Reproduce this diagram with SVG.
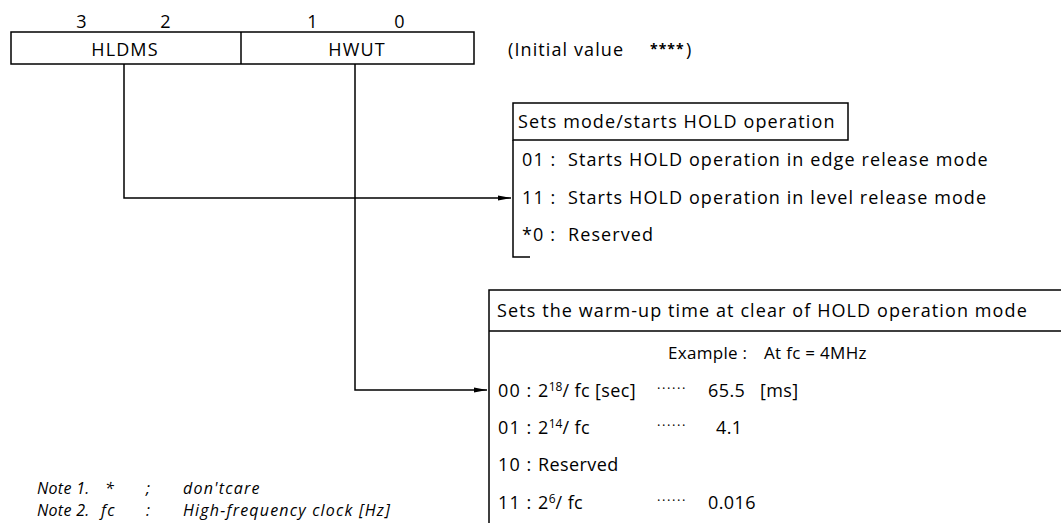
<svg xmlns="http://www.w3.org/2000/svg" width="1061" height="523" viewBox="0 0 1061 523">
<defs>
<marker id="arr" markerWidth="14" markerHeight="8" refX="13" refY="4" orient="auto" markerUnits="userSpaceOnUse">
<path d="M0,1.5 L13,4 L0,6.5 Z" fill="#000"/>
</marker>
<style>
text{font-family:"Open Sans","Noto Sans",sans-serif;font-size:18px;fill:#000;letter-spacing:1.1px}
.c{text-anchor:middle}
.it{font-style:italic;font-size:16px;letter-spacing:1.2px}
.sup{font-size:12px;letter-spacing:0}
.r{letter-spacing:0.4px}
.dots{font-size:13px;letter-spacing:1.6px}
.ln{fill:none;stroke:#000;stroke-width:1.5}
</style>
</defs>
<rect width="1061" height="523" fill="#fff"/>
<g id="register">
<text x="82" y="28" class="c">3</text>
<text x="166" y="28" class="c">2</text>
<text x="313" y="28" class="c">1</text>
<text x="400" y="28" class="c">0</text>
<rect x="11" y="32" width="463" height="32" class="ln"/>
<line x1="241" y1="32" x2="241" y2="64" class="ln"/>
<text x="125" y="56" class="c">HLDMS</text>
<text x="357" y="56" class="c">HWUT</text>
<text x="508" y="56">(Initial value</text>
<text x="650" y="54" style="font-size:14px;letter-spacing:1px;font-weight:bold">****</text>
<text x="686" y="56">)</text>
</g>
<g id="connectors">
<polyline points="124,64 124,198 511,198" class="ln" marker-end="url(#arr)"/>
<polyline points="355,64 355,390 487,390" class="ln" marker-end="url(#arr)"/>
</g>
<g id="hldms-box">
<rect x="513" y="103" width="335" height="37" class="ln"/>
<polyline points="513,140 513,257 530,257" class="ln"/>
<text x="518" y="128">Sets mode/starts HOLD operation</text>
<text x="522" y="166">01 :</text><text x="568" y="166">Starts HOLD operation in edge release mode</text>
<text x="522" y="204">11 :</text><text x="568" y="204">Starts HOLD operation in level release mode</text>
<text x="522" y="241">*0 :</text><text x="568" y="241">Reserved</text>
</g>
<g id="hwut-box">
<path d="M1065,290 H489 V523 M489,331 H1065" class="ln"/>
<text x="497" y="317">Sets the warm-up time at clear of HOLD operation mode</text>
<text x="668" y="359" style="font-size:17px;letter-spacing:0.3px">Example :</text>
<text x="764" y="359" style="font-size:17px;letter-spacing:0.3px">At fc = 4MHz</text>
<text x="498" y="397">00 :</text><text x="538" y="397" class="r">2<tspan class="sup" dy="-6">18</tspan><tspan dy="6">/ fc [sec]</tspan></text>
<text x="657" y="393" class="dots">······</text>
<text x="708" y="397" class="r">65.5</text><text x="760" y="397" class="r">[ms]</text>
<text x="498" y="434">01 :</text><text x="538" y="434" class="r">2<tspan class="sup" dy="-6">14</tspan><tspan dy="6">/ fc</tspan></text>
<text x="657" y="430" class="dots">······</text>
<text x="716" y="434" class="r">4.1</text>
<text x="498" y="471">10 :</text><text x="538" y="471" class="r">Reserved</text>
<text x="498" y="509">11 :</text><text x="538" y="509" class="r">2<tspan class="sup" dy="-6">6</tspan><tspan dy="6">/ fc</tspan></text>
<text x="657" y="505" class="dots">······</text>
<text x="708" y="509" class="r">0.016</text>
</g>
<g id="notes">
<text x="37" y="494" class="it" style="letter-spacing:0.3px">Note 1.</text><text x="105" y="494" class="it">*</text><text x="146" y="494" class="it">;</text><text x="183" y="494" class="it">don'tcare</text>
<text x="37" y="516" class="it" style="letter-spacing:0.3px">Note 2.</text><text x="101" y="516" class="it">fc</text><text x="146" y="516" class="it">:</text><text x="183" y="516" class="it">High-frequency clock [Hz]</text>
</g>
</svg>
